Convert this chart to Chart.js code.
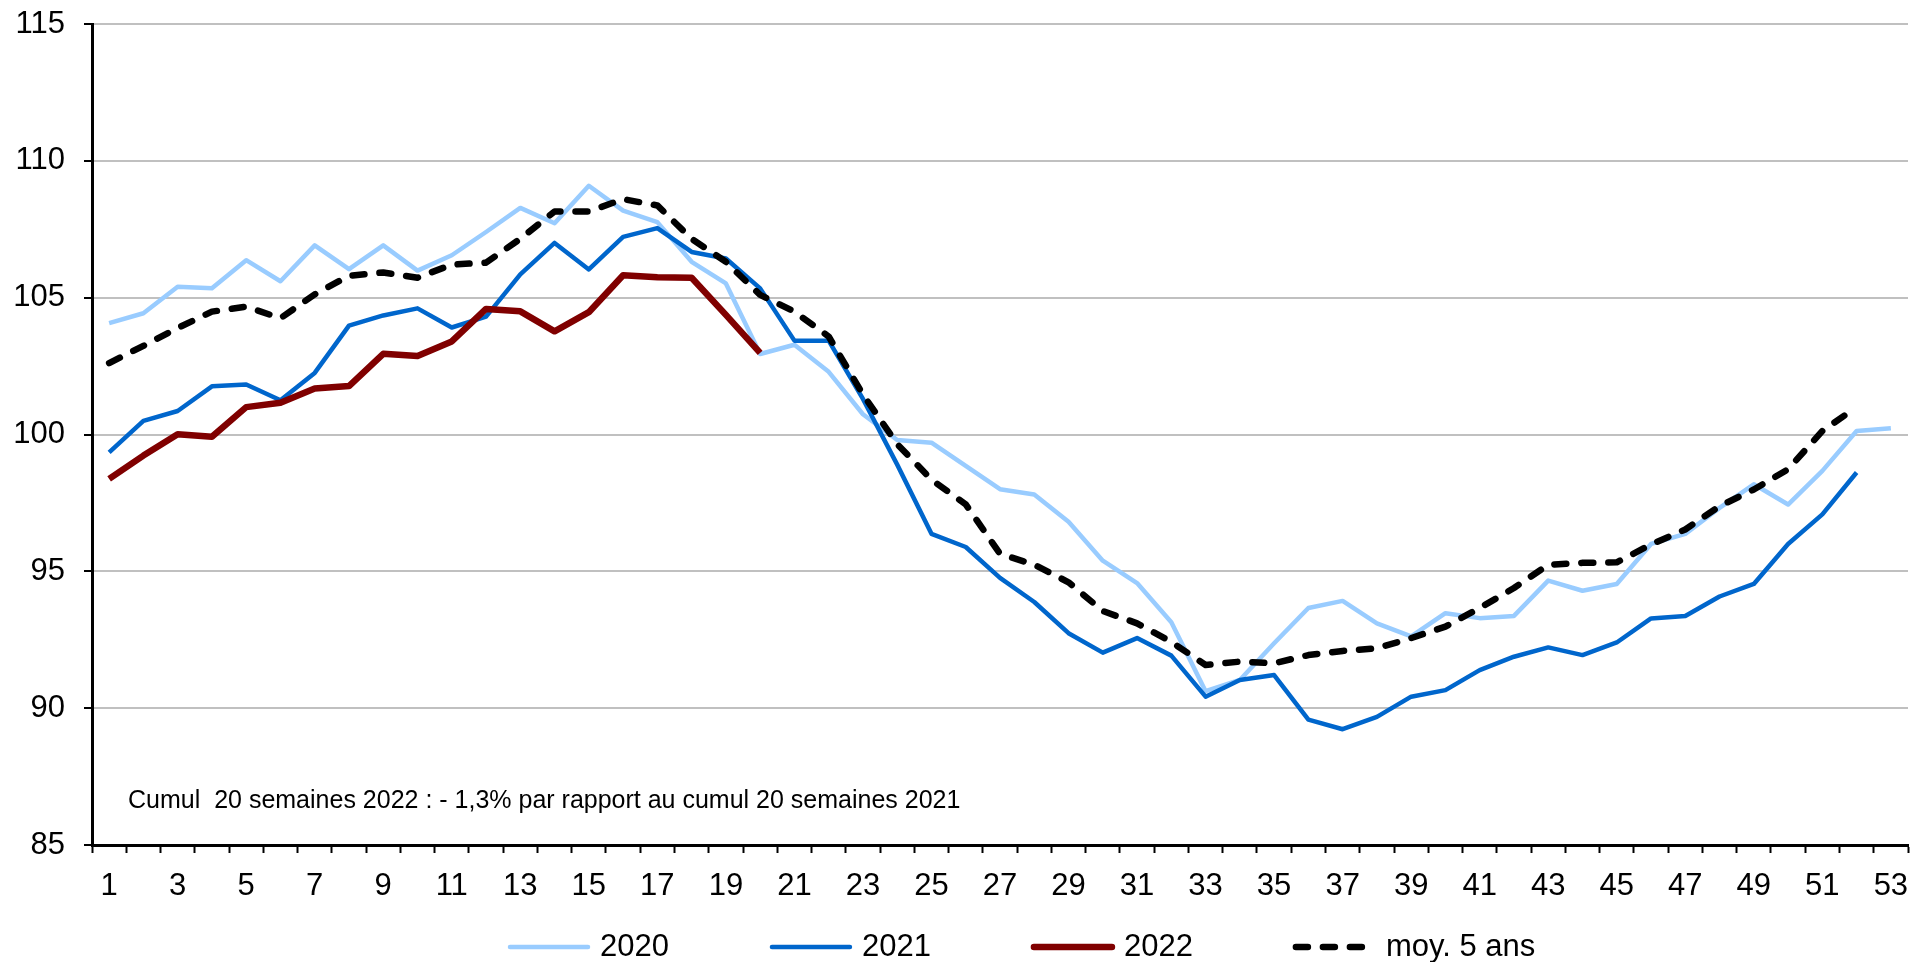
<!DOCTYPE html>
<html lang="fr">
<head>
    <meta charset="UTF-8">
    <title>Cumul hebdomadaire</title>
    <script src="https://cdn.jsdelivr.net/npm/chart.js@4.4.1/dist/chart.umd.min.js"></script>
    <style>
        html, body {
            margin: 0;
            padding: 0;
            background: #fff;
        }
        #wrap {
            width: 1914px;
            height: 962px;
        }
    </style>
</head>
<body>
<div id="wrap">
    <canvas id="chart" width="1914" height="962"></canvas>
</div>

<script>
    // Weeks
    const weeks = [1, 2, 3, 4, 5, 6, 7, 8, 9, 10, 11, 12, 13, 14, 15, 16, 17, 18, 19, 20,
        21, 22, 23, 24, 25, 26, 27, 28, 29, 30, 31, 32, 33, 34, 35, 36, 37, 38, 39, 40,
        41, 42, 43, 44, 45, 46, 47, 48, 49, 50, 51, 52, 53];

    // Series values
    const values2020 = [104.07, 104.43, 105.4, 105.34, 106.37, 105.6, 106.91, 106.04, 106.91, 105.99,
        106.55, 107.4, 108.28, 107.72, 109.09, 108.18, 107.76, 106.31, 105.52, 102.94,
        103.28, 102.29, 100.74, 99.8, 99.7, 98.85, 98.0, 97.81, 96.81, 95.39,
        94.57, 93.14, 90.62, 91.03, 92.37, 93.66, 93.92, 93.1, 92.62, 93.47,
        93.29, 93.37, 94.66, 94.29, 94.54, 96.0, 96.37, 97.32, 98.18, 97.44,
        98.67, 100.13, 100.23];

    const values2021 = [99.35, 100.5, 100.86, 101.76, 101.83, 101.25, 102.25, 103.98, 104.35, 104.61,
        103.91, 104.31, 105.85, 107.0, 106.03, 107.22, 107.54, 106.67, 106.43, 105.34,
        103.43, 103.43, 101.3, 98.9, 96.37, 95.89, 94.76, 93.88, 92.74, 92.03,
        92.56, 91.92, 90.42, 91.03, 91.21, 89.58, 89.23, 89.68, 90.42, 90.66,
        91.39, 91.88, 92.22, 91.94, 92.4, 93.28, 93.37, 94.08, 94.54, 96.0,
        97.08, 98.61];

    const values2022 = [98.38, 99.23, 100.01, 99.92, 101.0, 101.16, 101.68, 101.77, 102.95, 102.87,
        103.4, 104.59, 104.5, 103.77, 104.47, 105.82, 105.75, 105.73, 104.37, 102.98];

    const valuesAvg = [102.61, 103.24, 103.89, 104.49, 104.67, 104.25, 105.12, 105.8, 105.92, 105.73,
        106.21, 106.28, 107.15, 108.15, 108.15, 108.6, 108.37, 107.15, 106.31, 105.1,
        104.49, 103.58, 101.46, 99.65, 98.35, 97.45, 95.64, 95.24, 94.6, 93.55,
        93.1, 92.42, 91.58, 91.7, 91.64, 91.94, 92.09, 92.19, 92.56, 92.98,
        93.66, 94.39, 95.24, 95.31, 95.33, 95.98, 96.53, 97.38, 97.99, 98.73,
        100.13, 101.0];

    // Y axis ticks
    const yMin = 85;
    const yMax = 115;
    const yStep = 5;

    const note = 'Cumul  20 semaines 2022 : - 1,3% par rapport au cumul 20 semaines 2021';
    const fontFamily = '"Liberation Sans", Arial, sans-serif';

    // Note text + legend drawn under the axis
    const extrasPlugin = {
        id: 'extras',
        afterDraw(chart) {
            const ctx = chart.ctx;
            ctx.save();

            // note inside plot area
            ctx.font = '25px ' + fontFamily;
            ctx.fillStyle = '#000';
            ctx.textBaseline = 'alphabetic';
            ctx.textAlign = 'left';
            ctx.fillText(note, chart.chartArea.left + 36, 808);

            // legend
            ctx.font = '31px ' + fontFamily;
            ctx.textBaseline = 'middle';
            const y = 947;
            let x = 507;
            chart.data.datasets.forEach(ds => {
                ctx.beginPath();
                ctx.setLineDash(ds.borderDash || []);
                ctx.lineCap = 'round';
                ctx.lineWidth = ds.borderWidth;
                ctx.strokeStyle = ds.borderColor;
                ctx.moveTo(x + 3, y);
                ctx.lineTo(x + 81, y);
                ctx.stroke();
                ctx.setLineDash([]);
                ctx.fillStyle = '#000';
                ctx.fillText(ds.label, x + 93, y);
                x += 93 + ctx.measureText(ds.label).width + 100;
            });
            ctx.restore();
        }
    };

    const ctx = document.getElementById('chart').getContext('2d');
    const chart = new Chart(ctx, {
        type: 'line',
        data: {
            labels: weeks,
            datasets: [
                {
                    label: '2020',
                    data: values2020,
                    borderColor: '#99ccff',
                    borderWidth: 4.5,
                    order: 4
                },
                {
                    label: '2021',
                    data: values2021,
                    borderColor: '#0066cc',
                    borderWidth: 4.5,
                    order: 3
                },
                {
                    label: '2022',
                    data: values2022,
                    borderColor: '#800000',
                    borderWidth: 6.5,
                    order: 2
                },
                {
                    label: 'moy. 5 ans',
                    data: valuesAvg,
                    borderColor: '#000000',
                    borderWidth: 6.5,
                    borderDash: [12, 15],
                    borderCapStyle: 'round',
                    order: 1
                }
            ]
        },
        options: {
            responsive: false,
            animation: false,
            events: [],
            layout: {
                padding: { left: 0, right: 6, top: 24, bottom: 0 }
            },
            elements: {
                point: { radius: 0 },
                line: { tension: 0, borderJoinStyle: 'round', fill: false }
            },
            plugins: {
                legend: { display: false },
                tooltip: { enabled: false }
            },
            scales: {
                x: {
                    offset: true,
                    grid: {
                        offset: true,
                        drawOnChartArea: false,
                        drawTicks: true,
                        tickLength: 8,
                        tickColor: '#000',
                        tickWidth: 2
                    },
                    border: { color: '#000', width: 3 },
                    ticks: {
                        autoSkip: false,
                        maxRotation: 0,
                        padding: 15,
                        color: '#000',
                        font: { family: fontFamily, size: 31 },
                        callback: function (value, index) {
                            return index % 2 === 0 ? this.getLabelForValue(value) : '';
                        }
                    },
                    afterFit: function (scale) {
                        scale.height = 117;
                        scale.paddingLeft = 0;
                        scale.paddingRight = 0;
                    }
                },
                y: {
                    min: yMin,
                    max: yMax,
                    grid: {
                        color: ctx => ctx.tick && ctx.tick.value === yMin ? 'rgba(0,0,0,0)' : '#c0c0c0',
                        lineWidth: 2,
                        tickLength: 8,
                        tickColor: '#000',
                        tickWidth: 2
                    },
                    border: { color: '#000', width: 3 },
                    ticks: {
                        stepSize: yStep,
                        padding: 19,
                        color: '#000',
                        font: { family: fontFamily, size: 31 }
                    },
                    afterFit: function (scale) {
                        scale.width = 92;
                        scale.paddingTop = 0;
                        scale.paddingBottom = 0;
                    }
                }
            }
        },
        plugins: [extrasPlugin]
    });
</script>
</body>
</html>
